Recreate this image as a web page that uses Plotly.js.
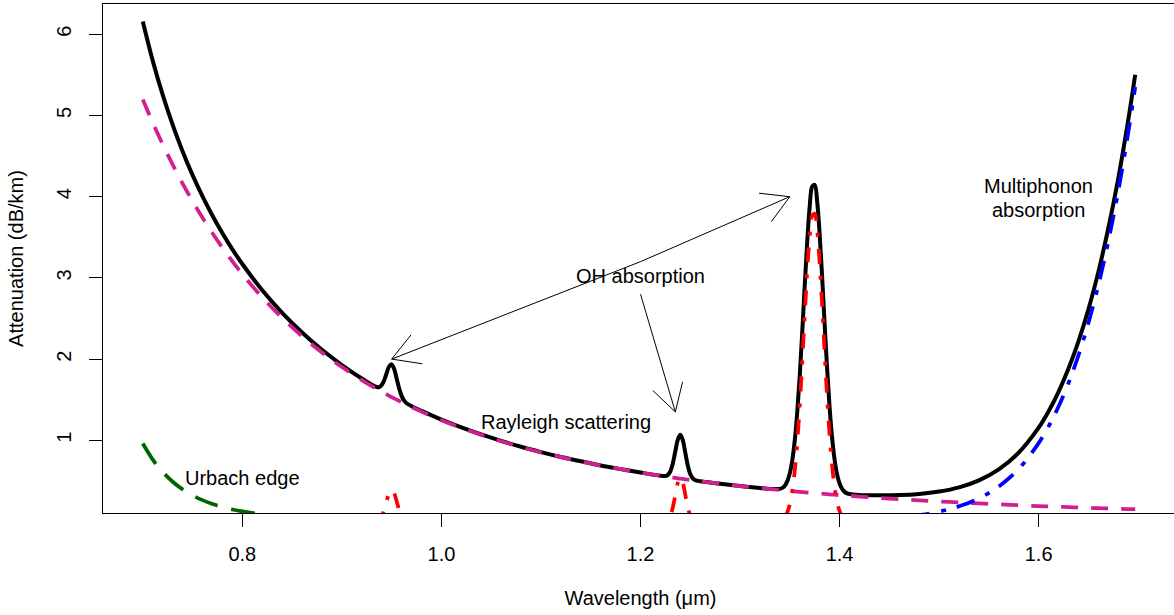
<!DOCTYPE html>
<html>
<head>
<meta charset="utf-8">
<script src="https://cdn.plot.ly/plotly-3.0.1.min.js"></script>
<style>
html,body{margin:0;padding:0;overflow:hidden;background:#fff;}
#chart{width:1178px;height:615px;}
</style>
</head>
<body>
<div id="chart"></div>
<script>
// ---- data ----
const wavelength = [
  0.70,0.71,0.72,0.73,0.74,0.75,0.76,0.77,0.78,0.79,0.80,
  0.82,0.84,0.86,0.88,0.90,0.92,0.93,
  0.935,0.9375,0.94,0.9425,0.945,0.9475,0.95,0.9525,0.955,0.9575,0.96,0.9625,0.965,
  0.97,0.98,1.00,1.02,1.04,1.06,1.08,1.10,1.12,1.14,1.16,1.18,1.20,1.22,
  1.225,1.2275,1.23,1.2325,1.235,1.2375,1.24,1.2425,1.245,1.2475,1.25,1.2525,1.255,
  1.26,1.28,1.30,1.32,1.33,
  1.34,1.3425,1.345,1.3475,1.35,1.3525,1.355,1.3575,1.36,1.3625,1.365,1.3675,1.37,1.3725,1.375,
  1.3775,1.38,1.3825,1.385,1.3875,1.39,1.3925,1.395,1.3975,1.40,1.4025,1.405,1.4075,1.41,
  1.42,1.44,1.46,1.48,1.50,1.52,1.54,1.56,1.58,1.60,
  1.61,1.62,1.63,1.64,1.65,1.66,1.67,1.68,1.69,1.697
];
const rayleigh = [
  5.198,4.911,4.644,4.395,4.162,3.944,3.741,3.550,3.372,3.204,3.047,
  2.760,2.507,2.282,2.081,1.902,1.742,1.668,
  1.633,1.616,1.599,1.582,1.565,1.548,1.532,1.516,1.500,1.485,1.469,1.454,1.439,
  1.410,1.353,1.248,1.153,1.067,0.989,0.917,0.852,0.793,0.739,0.689,0.644,0.602,0.563,
  0.554,0.550,0.545,0.541,0.537,0.532,0.528,0.524,0.519,0.515,0.511,0.507,0.503,
  0.495,0.465,0.437,0.411,0.399,
  0.387,0.384,0.381,0.379,0.376,0.373,0.370,0.368,0.365,0.362,0.360,0.357,0.354,0.352,0.349,
  0.347,0.344,0.342,0.339,0.337,0.334,0.332,0.330,0.327,0.325,0.323,0.320,0.318,0.316,
  0.307,0.290,0.275,0.260,0.247,0.234,0.222,0.211,0.200,0.190,
  0.186,0.181,0.177,0.173,0.168,0.164,0.161,0.157,0.153,0.151
];
const urbach = [
  0.960,0.762,0.609,0.490,0.396,0.322,0.263,0.216,0.179,0.148,0.124,
  0.087,0.063,0.046,0.034,0.025,0.019,0.017,
  0.016,0.015,0.015,0.014,0.014,0.014,0.013,0.013,0.012,0.012,0.012,0.011,0.011,
  0.010,0.009,0.007,0.006,0.005,0.004,0.003,0.003,0.002,0.002,0.001,0.001,0.001,0.001,
  0,0,0,0,0,0,0,0,0,0,0,0,0,
  0,0,0,0,0,
  0,0,0,0,0,0,0,0,0,0,0,0,0,0,0,
  0,0,0,0,0,0,0,0,0,0,0,0,0,0,
  0,0,0,0,0,0,0,0,0,0,
  0,0,0,0,0,0,0,0,0,0
];
const ohAbsorption = [
  0,0,0,0,0,0,0,0,0,0,0,
  0,0,0,0,0,0,0,
  0.007,0.024,0.066,0.143,0.250,0.349,0.390,0.349,0.250,0.143,0.066,0.024,0.007,
  0,0,0,0,0,0,0,0,0,0,0,0,0,0,
  0.006,0.024,0.073,0.175,0.328,0.477,0.540,0.477,0.328,0.175,0.073,0.024,0.006,
  0,0,0,0,0,
  0.012,0.027,0.057,0.114,0.214,0.378,0.627,0.977,1.430,1.967,2.541,3.085,3.517,3.767,3.791,
  3.584,3.182,2.655,2.081,1.532,1.059,0.688,0.420,0.241,0.130,0.066,0.031,0.014,0.006,
  0,0,0,0,0,0,0,0,0,0,
  0,0,0,0,0,0,0,0,0,0
];
const multiphonon = [
  0,0,0,0,0,0,0,0,0,0,0,
  0,0,0,0,0,0,0,
  0,0,0,0,0,0,0,0,0,0,0,0,0,
  0,0,0,0,0,0,0,0,0,0,0,0,0,0,
  0,0,0,0,0,0,0,0,0,0,0,0,0,
  0.000,0.001,0.001,0.002,0.002,
  0.003,0.003,0.003,0.004,0.004,0.004,0.004,0.005,0.005,0.005,0.006,0.006,0.006,0.007,0.007,
  0.008,0.008,0.009,0.009,0.010,0.010,0.011,0.011,0.012,0.013,0.014,0.014,0.015,0.016,
  0.020,0.032,0.050,0.079,0.122,0.187,0.285,0.432,0.648,0.965,
  1.171,1.416,1.706,2.046,2.445,2.910,3.450,4.070,4.790,5.350
];
const xTickVals = [0.8, 1.0, 1.2, 1.4, 1.6];
const xTickText = ["0.8", "1.0", "1.2", "1.4", "1.6"];
const yTickVals = [1, 2, 3, 4, 5, 6];
const yTickText = ["1", "2", "3", "4", "5", "6"];
const curveLabels = [
  {text: "Urbach edge", x: 0.80, y: 0.536},
  {text: "Rayleigh scattering", x: 1.125, y: 1.229},
  {text: "OH absorption", x: 1.20, y: 3.02},
  {text: "Multiphonon", x: 1.60, y: 4.138},
  {text: "absorption", x: 1.60, y: 3.842}
];
const arrowList = [
  {from: [1.20, 3.20], to: [0.95, 2.00]},
  {from: [1.20, 3.20], to: [1.35, 4.00]},
  {from: [1.20, 2.80], to: [1.235, 1.35]}
];

// ---- total attenuation = sum of the components ----
const total = wavelength.map((_, i) => rayleigh[i] + urbach[i] + ohAbsorption[i] + multiphonon[i]);

const FONT = "Liberation Sans, Arial, Helvetica, sans-serif";
const xRange = [0.66, 1.74];
const yRange = [0.1047, 6.3732];
const plotW = 1075, plotH = 509;

const traces = [
  {x: wavelength, y: total, mode: "lines", line: {color: "#000000", width: 4, shape: "spline"}, name: "Total"},
  {x: wavelength, y: rayleigh, mode: "lines", line: {color: "#D02090", width: 3.75, dash: "17px,13px", shape: "spline"}, name: "Rayleigh"},
  {x: wavelength, y: urbach, mode: "lines", line: {color: "#006400", width: 3.75, dash: "24px,14px", shape: "spline"}, name: "Urbach"},
  {x: wavelength, y: ohAbsorption, mode: "lines", line: {color: "#FF0000", width: 3.75, dash: "4px,12px,15px,12px", shape: "spline"}, name: "OH"},
  {x: wavelength, y: multiphonon, mode: "lines", line: {color: "#0000FF", width: 3.75, dash: "5px,11px,19px,12px", shape: "spline"}, name: "Multiphonon"}
];

// arrows: shaft + open head (two barbs, 30 deg, ~31 px)
const sx = plotW / (xRange[1] - xRange[0]);
const sy = plotH / (yRange[1] - yRange[0]);
const shapes = [];
arrowList.forEach(a => {
  const [x0, y0] = a.from, [x1, y1] = a.to;
  shapes.push({type: "line", xref: "x", yref: "y", x0: x0, y0: y0, x1: x1, y1: y1, line: {color: "#000", width: 1}});
  let ux = (x0 - x1) * sx, uy = (y0 - y1) * sy;
  const L = Math.hypot(ux, uy); ux /= L; uy /= L;
  [Math.PI / 6, -Math.PI / 6].forEach(t => {
    const rx = ux * Math.cos(t) - uy * Math.sin(t);
    const ry = ux * Math.sin(t) + uy * Math.cos(t);
    shapes.push({type: "line", xref: "x", yref: "y", x0: x1, y0: y1,
      x1: x1 + 31 * rx / sx, y1: y1 + 31 * ry / sy, line: {color: "#000", width: 1}});
  });
});

const annotations = curveLabels.map(c => ({
  x: c.x, y: c.y, xref: "x", yref: "y", text: c.text, showarrow: false,
  xanchor: "center", yanchor: "middle", font: {family: FONT, size: 20, color: "#000"}
}));

const axisCommon = {
  showgrid: false, zeroline: false, showline: true, mirror: true,
  linecolor: "#000", linewidth: 1, ticks: "outside", ticklen: 13, tickwidth: 1, tickcolor: "#000",
  tickfont: {family: FONT, size: 20, color: "#000"}, tickmode: "array"
};

const layout = {
  width: 1178, height: 615,
  margin: {l: 103, r: 0, t: 4, b: 102},
  paper_bgcolor: "#fff", plot_bgcolor: "#fff",
  showlegend: false,
  font: {family: FONT, size: 20, color: "#000"},
  xaxis: Object.assign({}, axisCommon, {
    range: xRange, tickvals: xTickVals, ticktext: xTickText, ticklabelstandoff: 10,
    title: {text: "Wavelength (μm)", font: {family: FONT, size: 20, color: "#000"}, standoff: 26}
  }),
  yaxis: Object.assign({}, axisCommon, {
    range: yRange, tickvals: yTickVals, ticktext: yTickText, tickangle: -90, ticklabelstandoff: 10,
    title: {text: "Attenuation (dB/km)", font: {family: FONT, size: 20, color: "#000"}, standoff: 24}
  }),
  shapes: shapes,
  annotations: annotations
};

Plotly.newPlot("chart", traces, layout, {staticPlot: true, displayModeBar: false});
</script>
</body>
</html>
